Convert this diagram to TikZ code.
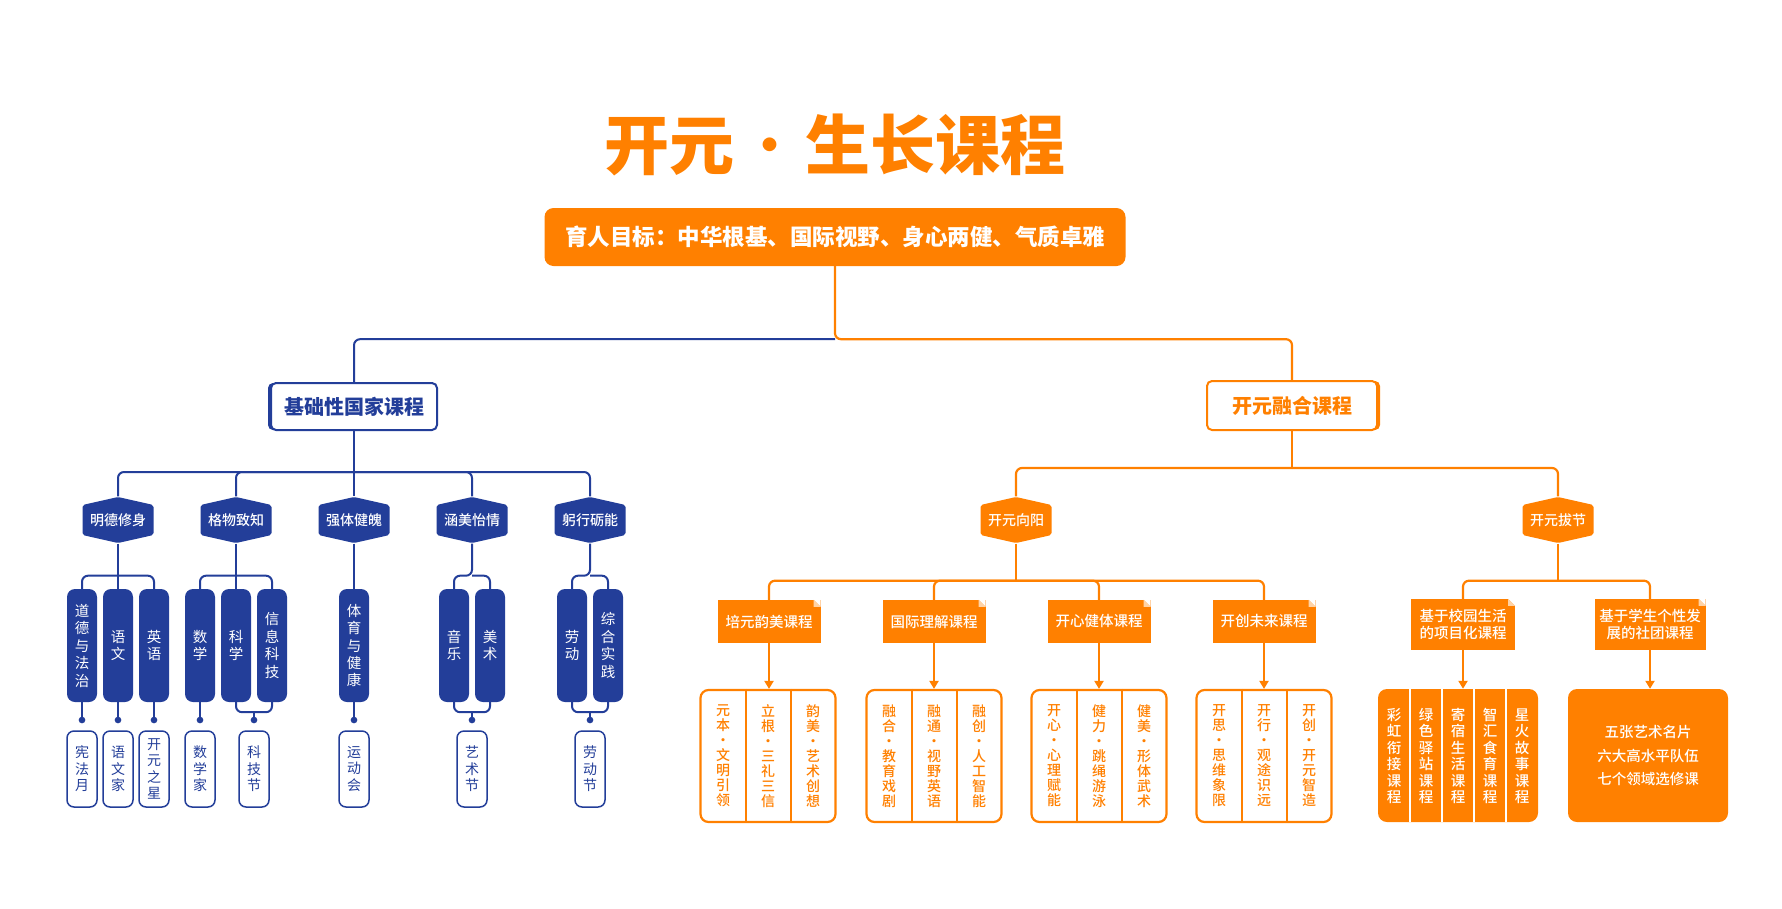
\documentclass[tikz,border=0pt]{standalone}
\usepackage{fontspec}
\setmainfont{Noto Sans CJK SC}
\newfontfamily\medfont{Noto Sans CJK SC Medium}
\usetikzlibrary{arrows.meta,calc,positioning,shadows}
\definecolor{kyblue}{HTML}{233E99}
\definecolor{kyorange}{HTML}{FF8000}

\tikzset{
  bline/.style={draw=kyblue,line width=2pt,rounded corners=6pt},
  oline/.style={draw=kyorange,line width=2.2pt,rounded corners=6pt},
  dotend/.style={-{Circle[length=6.5pt]},shorten >=7pt},
  oarrow/.style={draw=kyorange,line width=2pt,-{Triangle[width=9pt,length=8pt]}},
  hexlabel/.style={text=white,font=\medfont\fontsize{14}{16}\selectfont,inner sep=0pt,minimum width=71pt,minimum height=47pt},
  pill/.style={fill=kyblue,rounded corners=8pt,minimum width=30pt,minimum height=113pt,inner sep=0pt,
    text=white,align=center,font=\fontsize{14.5}{17.5}\selectfont},
  tagbox/.style={draw=kyblue,line width=1.5pt,fill=white,rounded corners=7pt,minimum width=30pt,
    minimum height=76pt,inner sep=0pt,text=kyblue,align=center,font=\fontsize{14}{16.5}\selectfont},
  head/.style={fill=kyorange,minimum height=43pt,inner sep=0pt,text=white,align=center,
    font=\medfont\fontsize{14.5}{17}\selectfont},
  tribox/.style={draw=kyorange,line width=2.2pt,fill=white,rounded corners=8pt,minimum width=135pt,
    minimum height=132pt,inner sep=0pt},
  coltext/.style={text=kyorange,align=center,inner sep=0pt,font=\medfont\fontsize{14}{15}\selectfont},
  fullbox/.style={fill=kyorange,rounded corners=9pt,minimum width=160pt,minimum height=133pt,inner sep=0pt,
    text=white,align=center},
}

\begin{document}
\begin{tikzpicture}[x=1pt,y=-1pt]
    \fill[white] (0,0) rectangle (1782,908);
    \useasboundingbox (0,0) rectangle (1782,908);

    % Title and goal
    \node[text=kyorange,font=\fontsize{65}{72}\selectfont\bfseries] (title) at (835,145)
      {开元\hspace{3pt}{\mdseries·}\hspace{3pt}生长课程};
    \node[fill=kyorange,rounded corners=9pt,minimum width=581pt,minimum height=58pt,inner sep=0pt,
      text=white,font=\fontsize{22.5}{26}\selectfont\bfseries] (goal) at (835,237)
      {育人目标：中华根基、国际视野、身心两健、气质卓雅};

    % Two main branches
    \node[draw=kyblue,line width=2pt,fill=white,rounded corners=5pt,minimum width=166pt,minimum height=47pt,
      text=kyblue,font=\fontsize{20}{24}\selectfont\bfseries,
      general shadow={fill=kyblue,shadow xshift=-3pt,shadow yshift=0pt}] (jichu) at (354,406.5) {基础性国家课程};
    \node[draw=kyorange,line width=2pt,fill=white,rounded corners=5pt,minimum width=170pt,minimum height=49pt,
      text=kyorange,font=\fontsize{20}{24}\selectfont\bfseries,
      general shadow={fill=kyorange,shadow xshift=3pt,shadow yshift=0pt}] (ronghe) at (1292,405.5) {开元融合课程};

    \coordinate (top) at ($(goal.south)+(0,73)$);
    \draw[bline] (top) -| (jichu.north);
    \draw[oline] (goal.south) -- (top) -| (ronghe.north);

    % Hexagons
    \foreach \n/\x/\c/\t in {hA/118/kyblue/明德修身, hB/236/kyblue/格物致知, hC/354/kyblue/强体健魄,
        hD/472/kyblue/涵美怡情, hE/590/kyblue/躬行砺能, hF/1016/kyorange/开元向阳, hG/1558/kyorange/开元拔节} {
        \fill[\c,rounded corners=2pt] (\x,497) -- (\x+35.5,505) -- (\x+35.5,535) -- (\x,543)
            -- (\x-35.5,535) -- (\x-35.5,505) -- cycle;
        \node[hexlabel] (\n) at (\x,520) {\t};
    }

    % Blue subjects
    \foreach \n/\x/\t in {pA/82/{道\\德\\与\\法\\治}, pB/118/{语\\文}, pC/154/{英\\语}, pD/200/{数\\学},
        pE/236/{科\\学}, pF/272/{信\\息\\科\\技}, pG/354/{体\\育\\与\\健\\康}, pH/454/{音\\乐},
        pI/490/{美\\术}, pJ/572/{劳\\动}, pK/608/{综\\合\\实\\践}}
        \node[pill] (\n) at (\x,645.5) {\t};

    \foreach \n/\x/\t in {tA/82/{宪\\法\\月}, tB/118/{语\\文\\家}, tC/154/{开\\元\\之\\星}, tD/200/{数\\学\\家},
        tE/254/{科\\技\\节}, tF/354/{运\\动\\会}, tG/472/{艺\\术\\节}, tH/590/{劳\\动\\节}}
        \node[tagbox] (\n) at (\x,769) {\t};

    \coordinate (jsplit) at ($(jichu.south)+(0,41)$);
    \draw[bline] (jichu.south) -- (hC.north);
    \foreach \h in {hA,hB,hD,hE}
        \draw[bline] (jsplit) -| (\h.north);

    \draw[bline] (hA.south) -- (pB.north);
    \draw[bline] ($(hA.south)+(0,32)$) -| (pA.north);
    \draw[bline] ($(hA.south)+(0,32)$) -| (pC.north);
    \draw[bline] (hB.south) -- (pE.north);
    \draw[bline] ($(hB.south)+(0,32)$) -| (pD.north);
    \draw[bline] ($(hB.south)+(0,32)$) -| (pF.north);
    \draw[bline] (hC.south) -- (pG.north);
    \draw[bline] (hD.south) -- ++(0,32) -| (pH.north);
    \draw[bline] ($(hD.south)+(0,32)$) -| (pI.north);
    \draw[bline] (hE.south) -- ++(0,32) -| (pJ.north);
    \draw[bline] ($(hE.south)+(0,32)$) -| (pK.north);

    \foreach \p/\t in {pA/tA, pB/tB, pC/tC, pD/tD, pG/tF}
        \draw[bline,dotend] (\p.south) -- (\t.north);
    \foreach \p/\q/\t in {pE/pF/tE, pH/pI/tG, pJ/pK/tH} {
        \draw[bline] (\p.south) -- ++(0,10) -| (\q.south);
        \draw[bline,dotend] ($(\p.south)!.5!(\q.south)+(0,10)$) -- (\t.north);
    }

    % Orange courses
    \foreach \n/\x/\t in {c1/769/培元韵美课程, c2/934/国际理解课程, c3/1099/开心健体课程, c4/1264/开创未来课程}
        \node[head,minimum width=103pt] (\n) at (\x,621.5) {\t};
    \node[head,minimum width=104pt,minimum height=51pt] (c5) at (1463,624.5) {基于校园生活\\的项目化课程};
    \node[head,minimum width=111pt,minimum height=51pt] (c6) at (1650,624.5) {基于学生个性发\\展的社团课程};
    \foreach \n in {c1,c2,c3,c4,c5,c6} {
        \fill[white] ([xshift=-7pt]\n.north east) -- (\n.north east) -- ([yshift=-7pt]\n.north east) -- cycle;
        \fill[kyorange!35] ([xshift=-7pt]\n.north east) -- ([xshift=-7pt,yshift=-7pt]\n.north east)
            -- ([yshift=-7pt]\n.north east) -- cycle;
    }

    \draw[oline] (ronghe.south) -- ++(0,37) coordinate (rsplit);
    \draw[oline] (rsplit) -| (hF.north);
    \draw[oline] (rsplit) -| (hG.north);
    \draw[oline] (hF.south) -- ++(0,37) coordinate (fsplit);
    \foreach \c in {c1,c2,c3,c4}
        \draw[oline] (fsplit) -| (\c.north);
    \draw[oline] (hG.south) -- ++(0,37) coordinate (gsplit);
    \draw[oline] (gsplit) -| (c5.north);
    \draw[oline] (gsplit) -| (c6.north);

    % Course boxes
    \foreach \n/\x in {b1/768, b2/934, b3/1099, b4/1264} {
        \node[tribox] (\n) at (\x,756) {};
        \draw[kyorange,line width=2pt] ([xshift=-22.5pt]\n.north) -- ([xshift=-22.5pt]\n.south);
        \draw[kyorange,line width=2pt] ([xshift=22.5pt]\n.north) -- ([xshift=22.5pt]\n.south);
    }
    \foreach \n/\x/\t in {k1/723/{元\\本\\·\\文\\明\\引\\领}, k2/768/{立\\根\\·\\三\\礼\\三\\信},
        k3/813/{韵\\美\\·\\艺\\术\\创\\想}, k4/889/{融\\合\\·\\教\\育\\戏\\剧}, k5/934/{融\\通\\·\\视\\野\\英\\语},
        k6/979/{融\\创\\·\\人\\工\\智\\能}, k7/1054/{开\\心\\·\\心\\理\\赋\\能}, k8/1099/{健\\力\\·\\跳\\绳\\游\\泳},
        k9/1144/{健\\美\\·\\形\\体\\武\\术}, k10/1219/{开\\思\\·\\思\\维\\象\\限}, k11/1264/{开\\行\\·\\观\\途\\识\\远},
        k12/1309/{开\\创\\·\\开\\元\\智\\造}}
        \node[coltext] (\n) at (\x,756) {\t};

    \node[fullbox] (b5) at (1458,755.5) {};
    \foreach \d in {-48,-16,16,48}
        \draw[white,line width=1.5pt] ([xshift=\d pt]b5.north) -- ([xshift=\d pt]b5.south);
    \foreach \n/\x/\t in {q1/1394/{彩\\虹\\衔\\接\\课\\程}, q2/1426/{绿\\色\\驿\\站\\课\\程}, q3/1458/{寄\\宿\\生\\活\\课\\程},
        q4/1490/{智\\汇\\食\\育\\课\\程}, q5/1522/{星\\火\\故\\事\\课\\程}}
        \node[text=white,align=center,inner sep=0pt,font=\medfont\fontsize{14.5}{16.5}\selectfont] (\n) at (\x,756) {\t};

    \node[fullbox,font=\medfont\fontsize{14.5}{23.5}\selectfont] (b6) at (1648,755.5) {五张艺术名片\\六大高水平队伍\\七个领域选修课};

    \foreach \c/\b in {c1/b1, c2/b2, c3/b3, c4/b4, c5/b5, c6/b6}
        \draw[oarrow] (\c.south) -- (\c.south |- \b.north);
\end{tikzpicture}
\end{document}
